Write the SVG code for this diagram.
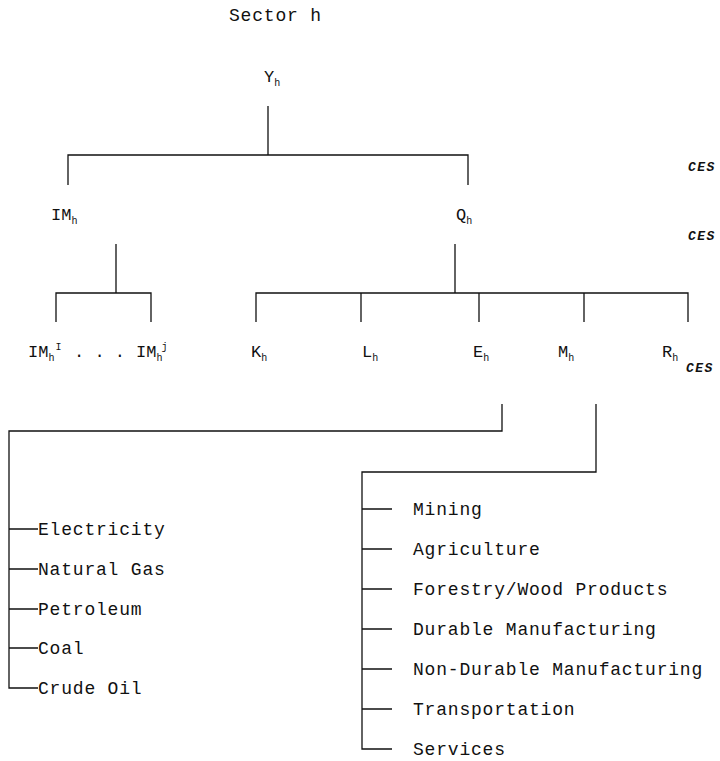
<svg xmlns="http://www.w3.org/2000/svg" width="720" height="761" viewBox="0 0 720 761">
<style>
.ln{stroke:#111;stroke-width:1.3;fill:none}
.t{font-family:"Liberation Mono","Courier New",monospace;font-size:17px;fill:#111}
.big{font-family:"Liberation Mono","Courier New",monospace;font-size:18px;letter-spacing:0.8px;fill:#111}
.sub{font-size:10px}
.ces{font-family:"Liberation Mono","Courier New",monospace;font-size:13px;font-style:italic;font-weight:bold;letter-spacing:1.5px;fill:#111}
</style>
<rect width="720" height="761" fill="#fff"/>
<g id="connectors">
<path class="ln" d="M268,106 V155 M68,185 V155 H468 V185"/>
<path class="ln" d="M116,244 V293 M56,322 V293 H151 V322"/>
<path class="ln" d="M455,244 V293 M256,322 V293 H688 V322 M361,293 V322 M479,293 V322 M584,293 V322"/>
<path class="ln" d="M502,404 V431 H9 V688 H38 M9,529 H38 M9,569 H38 M9,609 H38 M9,648 H38"/>
<path class="ln" d="M596,404 V472 H362 V749 H392 M362,509 H392 M362,549 H392 M362,589 H392 M362,629 H392 M362,669 H392 M362,709 H392"/>
</g>
<g id="title"><text class="big" x="229" y="21">Sector h</text></g>
<g id="Yh"><text class="t" x="264" y="82">Y<tspan class="sub" dy="4">h</tspan></text></g>
<g id="IMh"><text class="t" x="51" y="220">IM<tspan class="sub" dy="4">h</tspan></text></g>
<g id="Qh"><text class="t" x="456" y="220">Q<tspan class="sub" dy="4">h</tspan></text></g>
<g id="IMhI"><text class="t" x="28" y="357">IM<tspan class="sub" dy="4">h</tspan><tspan class="sub" dy="-11" dx="1">I</tspan></text></g>
<g id="dots"><text class="t" x="74" y="357">. . .</text></g>
<g id="IMhj"><text class="t" x="136" y="357">IM<tspan class="sub" dy="4">h</tspan><tspan class="sub" dy="-11" dx="-1">j</tspan></text></g>
<g id="Kh"><text class="t" x="251" y="357">K<tspan class="sub" dy="4">h</tspan></text></g>
<g id="Lh"><text class="t" x="362" y="357">L<tspan class="sub" dy="4">h</tspan></text></g>
<g id="Eh"><text class="t" x="473" y="357">E<tspan class="sub" dy="4">h</tspan></text></g>
<g id="Mh"><text class="t" x="558" y="357">M<tspan class="sub" dy="4">h</tspan></text></g>
<g id="Rh"><text class="t" x="662" y="357">R<tspan class="sub" dy="4">h</tspan></text></g>
<g id="ces1"><text class="ces" x="688" y="171">CES</text></g>
<g id="ces2"><text class="ces" x="688" y="240">CES</text></g>
<g id="ces3"><text class="ces" x="686" y="372">CES</text></g>
<g id="energy">
<text class="big" x="38" y="535">Electricity</text>
<text class="big" x="38" y="575">Natural Gas</text>
<text class="big" x="38" y="615">Petroleum</text>
<text class="big" x="38" y="654">Coal</text>
<text class="big" x="38" y="694">Crude Oil</text>
</g>
<g id="materials">
<text class="big" x="413" y="515">Mining</text>
<text class="big" x="413" y="555">Agriculture</text>
<text class="big" x="413" y="595">Forestry/Wood Products</text>
<text class="big" x="413" y="635">Durable Manufacturing</text>
<text class="big" x="413" y="675">Non-Durable Manufacturing</text>
<text class="big" x="413" y="715">Transportation</text>
<text class="big" x="413" y="755">Services</text>
</g>
</svg>
